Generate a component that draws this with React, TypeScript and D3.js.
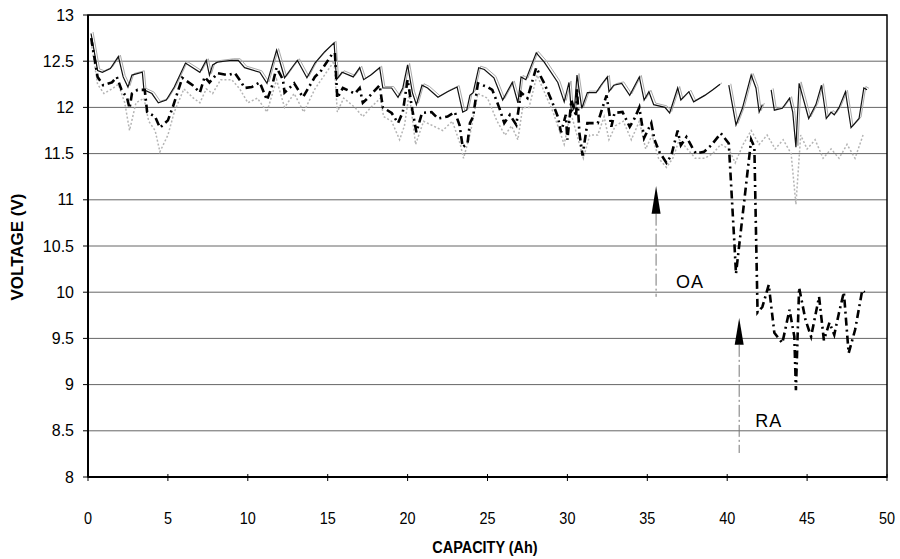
import * as d3 from 'd3';
import React from 'react';

// solid thin line (top trace)
const solidCap = [0.19, 0.6, 0.9, 1.4, 1.9, 2.2, 2.5, 2.75, 3.4, 3.5, 4.0, 4.4, 4.9, 5.4, 6.1, 7.0, 7.4, 7.6, 7.8, 8.1, 9.0, 9.4, 9.8,
    10.75, 11.2, 11.8, 12.2, 12.3, 12.8, 13.1, 13.7, 14.2, 14.8, 15.4, 15.55, 15.9, 16.6, 17.0, 17.25, 17.7, 18.25, 18.45, 19.0, 19.4, 19.7, 20.0,
    20.3, 20.55, 20.9, 21.25, 21.9, 22.5, 23.1, 23.45, 23.7, 23.9, 24.1, 24.45, 24.8, 25.4, 25.95, 26.55, 26.9, 27.1, 27.4, 28.05, 28.55, 29.4, 29.8,
    30.1, 30.25, 30.45, 30.6, 30.9, 31.25, 31.8, 32.1, 32.5, 32.6, 32.9, 33.4, 33.9, 34.5, 34.8, 35.1, 35.4, 36.1, 36.4, 36.9, 37.1, 37.6, 37.9, 38.6, 39.1, 39.55,
    39.8, 40.1, 40.55, 40.95, 41.5, 41.8, 42.0, 42.2, 42.5, 42.75, 42.95, 43.45, 43.9, 44.1, 44.3, 44.5, 45.1, 45.55, 45.9, 46.2, 46.5, 46.7, 47.0, 47.4, 47.75, 48.25, 48.55, 48.75];
const solidVolt = [12.80, 12.4, 12.38, 12.42, 12.55, 12.33, 12.22, 12.35, 12.38, 12.19, 12.15, 12.05, 12.08, 12.22, 12.48, 12.38, 12.51, 12.35, 12.46, 12.49, 12.51, 12.51, 12.43,
    12.38, 12.26, 12.62, 12.38, 12.32, 12.44, 12.51, 12.32, 12.48, 12.6, 12.70, 12.30, 12.38, 12.33, 12.43, 12.30, 12.35, 12.43, 12.21, 12.21, 12.11, 12.21, 12.46,
    12.16, 12.03, 12.24, 12.21, 12.11, 12.17, 12.22, 11.95, 11.97, 12.13, 12.16, 12.43, 12.41, 12.32, 12.08, 12.27, 12.05, 12.33, 12.30, 12.59, 12.49, 12.27, 12.06,
    12.27, 11.95, 12.0, 12.35, 11.99, 12.16, 12.16, 12.24, 12.33, 12.17, 12.24, 12.26, 12.13, 12.33, 12.08, 12.17, 12.03, 12.0, 11.94, 12.21, 12.08, 12.17, 12.06, 12.13, 12.19, 12.25,
    null, 12.24, 11.81, 11.99, 12.35, 12.21, 11.95, 12.03, null, 12.19, 11.97, 11.99, 12.1, 11.95, 11.57, 12.26, 11.88, 12.03, 12.24, 11.88, 11.95, 11.92, 12.0, 12.17, 11.78, 11.88, 12.21, 12.19];

// heavy dash-dot trace
const dashCap = [0.2, 0.6, 0.95, 1.5, 1.8, 2.1, 2.45, 2.6, 2.75, 3.1, 3.55, 3.7, 4.2, 4.5, 5.0, 5.3, 5.9, 6.55, 7.0, 7.3, 7.6, 8.1, 8.75, 9.2, 9.6, 9.8,
    10.25, 10.75, 11.2, 11.5, 11.8, 12.2, 12.3, 12.9, 13.45, 14.2, 14.6, 15.25, 15.45, 15.6, 15.95, 16.7, 17.0, 17.2, 17.5, 18.25, 18.45, 19.0, 19.4, 19.7, 20.0,
    20.3, 20.55, 20.9, 21.5, 21.9, 22.5, 22.95, 23.25, 23.45, 23.75, 23.9, 24.1, 24.4, 25.0, 25.3, 25.75, 26.05, 26.4, 26.8, 27.1, 27.5, 28.05, 28.55, 29.0, 29.4, 29.6, 29.9,
    30.0, 30.25, 30.55, 30.6, 30.75, 30.95, 31.25, 31.9, 32.2, 32.45, 32.75, 32.95, 33.45, 33.9, 34.2, 34.5, 34.8, 35.25, 35.45, 35.75, 36.2, 36.5, 36.9, 37.1, 37.45, 37.8, 38.05, 38.55, 39.0, 39.6, 40.1,
    40.45, 40.55, 40.95, 41.5, 41.7, 41.8, 41.9, 42.2, 42.6, 42.95, 43.45, 43.9, 44.2, 44.3, 44.5, 44.9, 45.25, 45.75, 46.05, 46.4, 46.7, 47.0, 47.3, 47.6, 48.0, 48.45, 48.6];
const dashVolt = [12.75, 12.33, 12.24, 12.27, 12.33, 12.19, 12.1, 11.99, 12.15, 12.19, 12.19, 11.95, 11.9, 11.78, 11.86, 12.0, 12.32, 12.24, 12.16, 12.33, 12.27, 12.37, 12.35, 12.37, 12.27, 12.21,
    12.22, 12.27, 12.08, 12.22, 12.43, 12.3, 12.16, 12.26, 12.11, 12.33, 12.4, 12.57, 12.59, 12.1, 12.21, 12.15, 12.21, 12.05, 12.1, 12.24, 12.0, 11.94, 11.83, 11.95, 12.3,
    11.97, 11.73, 11.94, 11.95, 11.88, 11.9, 11.95, 11.81, 11.57, 11.61, 11.83, 11.9, 12.26, 12.22, 12.19, 11.99, 11.83, 11.92, 11.81, 12.16, 12.1, 12.43, 12.26, 12.08, 11.9, 11.73, 11.92,
    11.65, 12.08, 11.9, 12.21, 11.72, 11.48, 11.83, 11.83, 12.0, 12.13, 11.79, 11.94, 11.95, 11.79, 11.88, 12.0, 11.67, 11.83, 11.65, 11.52, 11.4, 11.48, 11.75, 11.59, 11.68, 11.57, 11.5, 11.52, 11.59, 11.72, 11.61,
    10.53, 10.2, 10.81, 11.65, 11.57, 10.67, 9.78, 9.84, 10.08, 9.56, 9.45, 9.81, 9.52, 8.94, 10.05, 9.7, 9.52, 9.95, 9.48, 9.67, 9.54, 9.78, 10.0, 9.34, 9.59, 10.02, 10.0];

// light dotted trace
const dotCap = [0.2, 0.6, 1.0, 1.5, 1.9, 2.3, 2.6, 3.0, 3.5, 3.8, 4.2, 4.5, 5.0, 5.4, 6.0, 6.6, 7.0, 7.4, 7.8, 8.3, 9.0, 9.5, 10.0, 10.6, 11.2, 11.8, 12.3, 12.9, 13.5,
    14.2, 14.8, 15.4, 15.6, 16.0, 16.7, 17.2, 17.7, 18.3, 18.5, 19.0, 19.5, 19.8, 20.1, 20.5, 21.0, 21.6, 22.2, 22.8, 23.3, 23.5, 23.9, 24.4, 25.0, 25.6, 26.1, 26.5, 26.9,
    27.2, 27.6, 28.1, 28.6, 29.1, 29.5, 29.8, 30.2, 30.6, 31.0, 31.4, 31.9, 32.3, 32.6, 33.0, 33.5, 34.0, 34.5, 34.9, 35.3, 35.7, 36.2, 36.6, 37.0, 37.5, 38.0, 38.6, 39.1, 39.6,
    40.1, 40.5, 41.0, 41.5, 42.0, 42.5, 43.0, 43.5, 44.0, 44.3, 44.6, 45.0, 45.5, 46.0, 46.5, 47.0, 47.5, 48.0, 48.5];
const dotVolt = [12.7, 12.25, 12.15, 12.2, 12.25, 12.05, 11.75, 12.05, 12.1, 11.85, 11.75, 11.52, 11.7, 11.95, 12.2, 12.1, 12.05, 12.2, 12.15, 12.3, 12.3, 12.2, 12.05, 12.1, 11.95, 12.3, 12.0, 12.15, 11.95,
    12.2, 12.35, 12.5, 11.95, 12.1, 12.0, 11.9, 12.0, 12.1, 11.9, 11.85, 11.65, 11.8, 12.15, 11.6, 11.85, 11.8, 11.75, 11.85, 11.6, 11.45, 11.7, 12.15, 12.1, 11.85, 11.7, 11.8, 11.65,
    12.0, 12.0, 12.35, 12.15, 11.95, 11.75, 11.6, 11.95, 11.7, 11.45, 11.7, 11.7, 11.9, 11.65, 11.8, 11.85, 11.65, 11.85, 11.55, 11.7, 11.45, 11.35, 11.45, 11.65, 11.55, 11.45, 11.45, 11.5, 11.6,
    11.55, 11.4, 11.6, 11.75, 11.6, 11.7, 11.55, 11.65, 11.5, 10.95, 11.7, 11.55, 11.65, 11.45, 11.55, 11.45, 11.6, 11.45, 11.7];

const yTicks = [8, 8.5, 9, 9.5, 10, 10.5, 11, 11.5, 12, 12.5, 13];
const xTicks = [0, 5, 10, 15, 20, 25, 30, 35, 40, 45, 50];

// annotation arrows
const arrows = [
    { cap: 35.55, tip: 11.15, base: 10.85, lineEnd: 9.95, label: 'OA', labelCap: 36.8, labelVolt: 10.05 },
    { cap: 40.75, tip: 9.72, base: 9.43, lineEnd: 8.26, label: 'RA', labelCap: 41.75, labelVolt: 8.54 }
];

const App = () => {
    const width = 900;
    const height = 559;
    const left = 88;
    const right = 887;
    const top = 15;
    const bottom = 477;

    const x = d3.scaleLinear().domain([0, 50]).range([left, right]);
    const y = d3.scaleLinear().domain([8, 13]).range([bottom, top]);

    const makeLine = (caps, volts) => {
        const pts = caps.map((c, i) => ({ c, v: volts[i] }));
        return d3.line()
            .defined(d => d.v !== null)
            .x(d => x(d.c))
            .y(d => y(d.v))(pts);
    };

    const sansFont = '"Liberation Sans", Arial, sans-serif';

    return (
        <svg width={width} height={height} style={{ position: 'absolute', left: 0, top: 0, background: '#fff' }}>
            {yTicks.map(t => (
                <g key={'gy' + t}>
                    <line x1={left} x2={right} y1={y(t)} y2={y(t)} stroke="#666" strokeWidth={1} />
                    <line x1={left - 5} x2={left} y1={y(t)} y2={y(t)} stroke="#000" strokeWidth={1} />
                    <text x={74} y={y(t)} dy="0.35em" textAnchor="end" fontFamily={sansFont} fontSize={16}>{t}</text>
                </g>
            ))}
            {xTicks.map(t => (
                <g key={'gx' + t}>
                    <line x1={x(t)} x2={x(t)} y1={bottom - 3} y2={bottom + 4} stroke="#000" strokeWidth={1} />
                    <text transform={`translate(${x(t)}, 524) scale(0.85, 1)`} textAnchor="middle" fontFamily={sansFont} fontSize={17}>{t}</text>
                </g>
            ))}

            <path d={makeLine(dotCap, dotVolt)} fill="none" stroke="#b4b4b4" strokeWidth={1.5} strokeDasharray="2,2" />
            <path d={makeLine(solidCap, solidVolt)} fill="none" stroke="#aaa" strokeWidth={1} transform="translate(2,-1.5)" />
            <path d={makeLine(solidCap, solidVolt)} fill="none" stroke="#111" strokeWidth={1.2} />
            <path d={makeLine(dashCap, dashVolt)} fill="none" stroke="#000" strokeWidth={2.6} strokeDasharray="8,4,2,4" />

            {arrows.map(a => (
                <g key={a.label}>
                    <line x1={x(a.cap)} x2={x(a.cap)} y1={y(a.base)} y2={y(a.lineEnd)} stroke="#777" strokeWidth={1} strokeDasharray="12,3,2,3" />
                    <polygon
                        points={`${x(a.cap)},${y(a.tip)} ${x(a.cap) - 4.5},${y(a.base)} ${x(a.cap) + 4.5},${y(a.base)}`}
                        fill="#000"
                    />
                    <text x={x(a.labelCap)} y={y(a.labelVolt)} fontFamily={sansFont} fontSize={18} letterSpacing={1}>{a.label}</text>
                </g>
            ))}

            <rect x={left} y={top} width={right - left} height={bottom - top} fill="none" stroke="#000" strokeWidth={1.5} />
            <line x1={left} x2={left} y1={top} y2={bottom} stroke="#000" strokeWidth={2} />
            <line x1={left} x2={right} y1={bottom} y2={bottom} stroke="#000" strokeWidth={2} />

            <text transform="translate(485, 553) scale(0.85, 1)" textAnchor="middle" fontFamily={sansFont} fontWeight="bold" fontSize={17}>CAPACITY (Ah)</text>
            <text transform="translate(23, 247) rotate(-90)" textAnchor="middle" fontFamily={sansFont} fontWeight="bold" fontSize={17}>VOLTAGE (V)</text>
        </svg>
    );
};

export default App;
